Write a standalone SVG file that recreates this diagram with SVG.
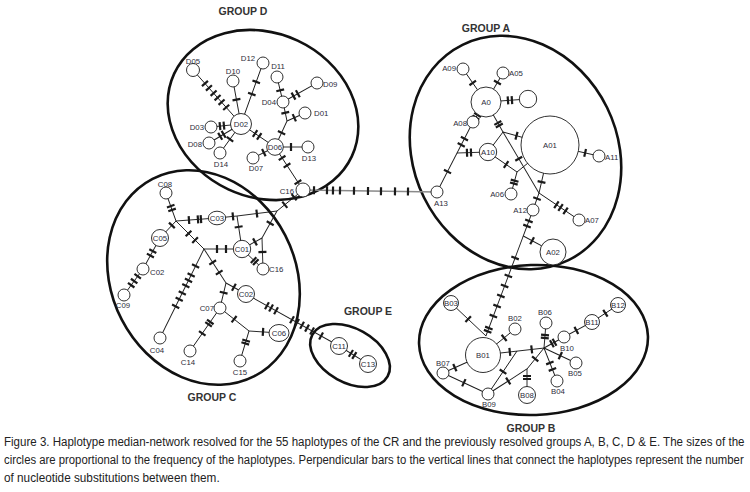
<svg xmlns="http://www.w3.org/2000/svg" width="750" height="492" viewBox="0 0 750 492">
<style>
.e line{stroke:#1a1a1a;stroke-width:.9}
.e path{stroke:#1a1a1a;stroke-width:2.2;fill:none}
.e .gr line{stroke:#8a8a8a;stroke-width:1.4}
.n circle,.n ellipse{fill:#fff;stroke:#1a1a1a;stroke-width:.9}
.n text{font-family:"Liberation Sans",Arial,sans-serif;font-size:7.8px;fill:#2d2d3a;text-anchor:middle;dominant-baseline:central}
.n text.ls{text-anchor:start}
.n text.le{text-anchor:end}
.grp{fill:none;stroke:#111;stroke-width:2.6}
.lbl{font-family:"Liberation Sans",Arial,sans-serif;font-weight:bold;font-size:10.5px;fill:#333;text-anchor:middle;dominant-baseline:central}
.cap{font-family:"Liberation Sans",Arial,sans-serif;font-size:12.5px;fill:#222}
</style>
<rect width="750" height="492" fill="#fff"/>
<g id="groups">
<ellipse class="grp" cx="263" cy="115" rx="98" ry="82" transform="rotate(25 263 115)"/>
<ellipse class="grp" cx="515.5" cy="152.5" rx="102" ry="120" transform="rotate(-26.2 515.5 152.5)"/>
<ellipse class="grp" cx="203.5" cy="277.5" rx="92" ry="111" transform="rotate(-27.3 203.5 277.5)"/>
<ellipse class="grp" cx="350" cy="355.5" rx="43" ry="27" transform="rotate(29 350 355.5)"/>
<ellipse class="grp" cx="533.5" cy="340" rx="114.5" ry="75" transform="rotate(-2 533.5 340)"/>
</g>
<g id="connectors" class="e">
<g transform="translate(193 70) rotate(48.4)"><line x2="72.2"/><path d="M18-4v8M24-4v8M31-4v8M37-4v8M43-4v8M50-4v8"/></g>
<g transform="translate(233 81) rotate(79.5)"><line x2="43.7"/><path d="M19-4v8"/></g>
<g transform="translate(263 63) rotate(109.8)"><line x2="64.8"/><path d="M20-4v8M33-4v8"/></g>
<g transform="translate(211 127) rotate(-5.7)"><line x2="30.1"/><path d="M9-4v8M13-4v8"/></g>
<g transform="translate(209 143) rotate(-30.7)"><line x2="37.2"/><path d="M13-4v8M17-4v8"/></g>
<g transform="translate(220 153) rotate(-54.1)"><line x2="35.8"/><path d="M17-4v8"/></g>
<g transform="translate(241 124) rotate(34.1)"><line x2="41"/><path d="M17-4v8M22-4v8"/></g>
<g transform="translate(283 102) rotate(-103.5)"><line x2="25.7"/><path d="M12-4v8"/></g>
<g transform="translate(283 102) rotate(-29.2)"><line x2="39"/><path d="M12-4v8M17-4v8"/></g>
<g transform="translate(283 102) rotate(78.1)"><line x2="19.4"/><path d="M11-4v8"/></g>
<g transform="translate(287 121) rotate(-24)"><line x2="19.7"/><path d="M8-4v8"/></g>
<g transform="translate(287 121) rotate(114.8)"><line x2="28.6"/><path d="M13-4v8"/></g>
<g transform="translate(275 147)"><line x2="33"/><path d="M16-4v8"/></g>
<g transform="translate(275 147) rotate(153.4)"><line x2="24.6"/><path d="M12.5-4v8"/></g>
<g transform="translate(275 147) rotate(56.9)"><line x2="51.3"/><path d="M13-4v8M22-4v8M42-4v8"/></g>
<g class="gr" transform="translate(303 190) rotate(0.85)"><line x2="134"/><path d="M11-4v8M24-4v8M30-4v8M37-4v8M51-4v8M65-4v8M78-4v8M92-4v8M105-4v8"/></g>
<g transform="translate(463 69) rotate(55.1)"><line x2="40.2"/><path d="M17-4v8"/></g>
<g transform="translate(503 73) rotate(120.4)"><line x2="33.6"/><path d="M11-4v8"/></g>
<g transform="translate(486 102) rotate(-4.1)"><line x2="42.1"/><path d="M22-4v8M26-4v8"/></g>
<g transform="translate(486 102) rotate(123)"><line x2="23.9"/><path d="M15.5-4v8M18.5-4v8"/></g>
<g transform="translate(437 192) rotate(-62.8)"><line x2="78.7"/><path d="M23-4v8M53-4v8M60-4v8"/></g>
<g transform="translate(457 153) rotate(-1.8)"><line x2="31"/><path d="M10-4v8M14-4v8"/></g>
<g transform="translate(486 102) rotate(60.5)"><line x2="34.5"/><path d="M24-4v8M27-4v8"/></g>
<g transform="translate(503 132) rotate(15.5)"><line x2="48.8"/><path d="M14-4v8"/></g>
<g transform="translate(503 132) rotate(126.9)"><line x2="25"/></g>
<g transform="translate(503 132) rotate(59.5)"><line x2="70.8"/><path d="M31-4v8"/></g>
<g transform="translate(488 152) rotate(34.6)"><line x2="35.2"/><path d="M22-4v8"/></g>
<g transform="translate(517 172) rotate(105.3)"><line x2="22.8"/><path d="M9-4v8M12-4v8"/></g>
<g transform="translate(517 172) rotate(-39.3)"><line x2="42.6"/></g>
<g transform="translate(550 145) rotate(102.9)"><line x2="49.2"/><path d="M38-4v8"/></g>
<g transform="translate(539 193) rotate(34)"><line x2="48.3"/><path d="M21-4v8M26-4v8M32-4v8"/></g>
<g transform="translate(539 193) rotate(109.4)"><line x2="18"/><path d="M6-4v8"/></g>
<g transform="translate(550 145) rotate(12.7)"><line x2="50.2"/><path d="M36-4v8"/></g>
<g transform="translate(533 210) rotate(110.5)"><line x2="134.5"/><path d="M11.7-4v8M17.1-4v8M51.2-4v8M70.4-4v8M81.1-4v8M91.8-4v8M102.5-4v8M113.2-4v8M126-4v8M129.5-4v8"/></g>
<g transform="translate(523.3 236) rotate(28.3)"><line x2="33.7"/><path d="M10-4v8"/></g>
<g transform="translate(451 303) rotate(43.3)"><line x2="48.1"/><path d="M23.6-4v8"/></g>
<g transform="translate(515 329) rotate(140.9)"><line x2="41.2"/><path d="M14-4v8"/></g>
<g transform="translate(483 355) rotate(-6.5)"><line x2="61.4"/><path d="M27-4v8M49-4v8"/></g>
<g transform="translate(517 351) rotate(124)"><line x2="51.9"/><path d="M25-4v8"/></g>
<g transform="translate(488 394) rotate(-32.7)"><line x2="46.3"/><path d="M24-4v8"/></g>
<g transform="translate(527 369) rotate(-51)"><line x2="27"/><path d="M13-4v8"/></g>
<g transform="translate(527 369) rotate(90)"><line x2="26"/><path d="M7-4v8M10-4v8"/></g>
<g transform="translate(443 373) rotate(-24.2)"><line x2="43.9"/><path d="M13-4v8"/></g>
<g transform="translate(443 373) rotate(25)"><line x2="49.7"/><path d="M23-4v8"/></g>
<g transform="translate(544 348) rotate(-85.4)"><line x2="25.1"/><path d="M10-4v8M13-4v8"/></g>
<g transform="translate(544 348) rotate(-28.8)"><line x2="22.8"/><path d="M9-4v8M12-4v8"/></g>
<g transform="translate(564 337) rotate(-28.2)"><line x2="31.8"/><path d="M14-4v8"/></g>
<g transform="translate(592 322) rotate(-33.2)"><line x2="31.1"/><path d="M16-4v8"/></g>
<g transform="translate(544 348) rotate(25.1)"><line x2="35.3"/><path d="M18-4v8"/></g>
<g transform="translate(544 348) rotate(68.5)"><line x2="35.5"/><path d="M16-4v8M23-4v8"/></g>
<g transform="translate(166 193) rotate(70.3)"><line x2="29.7"/><path d="M14-4v8M18-4v8"/></g>
<g transform="translate(176 221) rotate(-4.2)"><line x2="41.1"/><path d="M13-4v8M22-4v8M25-4v8"/></g>
<g transform="translate(176 221) rotate(133.3)"><line x2="23.3"/><path d="M6-4v8"/></g>
<g transform="translate(176 221) rotate(45)"><line x2="39.6"/><path d="M17.7-4v8M27-4v8"/></g>
<g transform="translate(204 249)"><line x2="38"/><path d="M13-4v8M22-4v8"/></g>
<g transform="translate(204 249) rotate(116.3)"><line x2="99.3"/><path d="M19-4v8M29-4v8M35-4v8M41-4v8M49-4v8M56-4v8M64-4v8"/></g>
<g transform="translate(204 249) rotate(57.1)"><line x2="40.5"/><path d="M16-4v8M28-4v8"/></g>
<g transform="translate(226 283) rotate(28.8)"><line x2="22.8"/><path d="M9-4v8"/></g>
<g transform="translate(226 283) rotate(103.5)"><line x2="25.7"/><path d="M10-4v8"/></g>
<g transform="translate(220 308) rotate(124.9)"><line x2="52.4"/><path d="M17-4v8M20-4v8M31-4v8"/></g>
<g transform="translate(220 308) rotate(38.4)"><line x2="37"/><path d="M18-4v8"/></g>
<g transform="translate(249 331) rotate(3.8)"><line x2="30.1"/><path d="M14-4v8"/></g>
<g transform="translate(249 331) rotate(106.7)"><line x2="31.3"/><path d="M10-4v8M13-4v8"/></g>
<g transform="translate(160 238) rotate(118.7)"><line x2="35.4"/><path d="M15-4v8M20-4v8"/></g>
<g transform="translate(143 269) rotate(126.2)"><line x2="32.2"/><path d="M9-4v8M15-4v8M20-4v8"/></g>
<g transform="translate(217 218) rotate(-5.7)"><line x2="20"/><path d="M16-4v8"/></g>
<g transform="translate(237 216) rotate(81.4)"><line x2="33.4"/><path d="M11-4v8"/></g>
<g transform="translate(237 216) rotate(-7.1)"><line x2="40.3"/><path d="M20-4v8"/></g>
<g transform="translate(277 211) rotate(-38.9)"><line x2="33.4"/><path d="M10-4v8M22-4v8"/></g>
<g transform="translate(277 211) rotate(119.1)"><line x2="30.9"/><path d="M14-4v8"/></g>
<g transform="translate(262 238) rotate(151.2)"><line x2="22.8"/><path d="M8-4v8"/></g>
<g transform="translate(262 238) rotate(88.2)"><line x2="31"/><path d="M14-4v8"/></g>
<g transform="translate(242 249) rotate(43.6)"><line x2="29"/><path d="M16-4v8M19-4v8"/></g>
<g transform="translate(246 294) rotate(29.2)"><line x2="106.6"/><path d="M24-4v8M28.7-4v8M34.4-4v8M52.7-4v8M58.5-4v8M64.2-4v8M69.9-4v8M75.7-4v8M86-4v8"/></g>
<g transform="translate(339 346) rotate(31.8)"><line x2="34.1"/><path d="M14-4v8M18-4v8"/></g>
</g>
<g id="nodes-D">
<g id="D05" class="n"><circle cx="193" cy="70" r="6.5"/><text x="193" y="61">D05</text></g>
<g id="D12" class="n"><circle cx="263" cy="63" r="6"/><text x="248" y="58">D12</text></g>
<g id="D10" class="n"><circle cx="233" cy="81" r="6"/><text x="233" y="71">D10</text></g>
<g id="D11" class="n"><circle cx="277" cy="77" r="6"/><text x="278" y="66">D11</text></g>
<g id="D09" class="n"><circle cx="317" cy="83" r="6"/><text class="ls" x="323" y="84">D09</text></g>
<g id="D04" class="n"><circle cx="283" cy="102" r="6"/><text class="le" x="276" y="102">D04</text></g>
<g id="D01" class="n"><circle cx="305" cy="113" r="6"/><text class="ls" x="314" y="113">D01</text></g>
<g id="D02" class="n"><circle cx="241" cy="124" r="10.5"/><text x="241" y="124">D02</text></g>
<g id="D03" class="n"><circle cx="211" cy="127" r="6"/><text class="le" x="204" y="127">D03</text></g>
<g id="D08" class="n"><circle cx="209" cy="143" r="6"/><text class="le" x="202" y="144">D08</text></g>
<g id="D14" class="n"><circle cx="220" cy="153" r="6"/><text x="221" y="164">D14</text></g>
<g id="D06" class="n"><circle cx="275" cy="147" r="8.3"/><text x="275" y="147">D06</text></g>
<g id="D07" class="n"><circle cx="253" cy="158" r="6"/><text x="256" y="168">D07</text></g>
<g id="D13" class="n"><circle cx="308" cy="147" r="6"/><text x="309" y="158">D13</text></g>
<g id="C16-top" class="n"><circle cx="303" cy="190" r="7"/><text class="le" x="294" y="191">C16</text></g>
</g>
<g id="nodes-A">
<g id="A09" class="n"><circle cx="463" cy="69" r="6"/><text class="le" x="456" y="68">A09</text></g>
<g id="A05" class="n"><circle cx="503" cy="73" r="6"/><text class="ls" x="509" y="73">A05</text></g>
<g id="A0" class="n"><circle cx="486" cy="102" r="15"/><text x="486" y="102">A0</text></g>
<g id="A-unnamed" class="n"><circle cx="528" cy="99" r="8.7"/></g>
<g id="A08" class="n"><circle cx="473" cy="122" r="6"/><text class="le" x="467" y="123">A08</text></g>
<g id="A01" class="n"><circle cx="550" cy="145" r="29"/><text x="550" y="145">A01</text></g>
<g id="A10" class="n"><circle cx="488" cy="152" r="8.7"/><text x="488" y="152">A10</text></g>
<g id="A11" class="n"><circle cx="599" cy="156" r="6"/><text class="ls" x="605" y="157">A11</text></g>
<g id="A06" class="n"><circle cx="511" cy="194" r="6"/><text class="le" x="504" y="194">A06</text></g>
<g id="A13" class="n"><circle cx="437" cy="192" r="6"/><text x="441" y="203">A13</text></g>
<g id="A12" class="n"><circle cx="533" cy="210" r="6"/><text class="le" x="527" y="210">A12</text></g>
<g id="A07" class="n"><circle cx="579" cy="220" r="6"/><text class="ls" x="585" y="220">A07</text></g>
<g id="A02" class="n"><circle cx="553" cy="252" r="13"/><text x="553" y="252">A02</text></g>
</g>
<g id="nodes-B">
<g id="B03" class="n"><circle cx="451" cy="303" r="7.5"/><text x="451" y="303">B03</text></g>
<g id="B12" class="n"><circle cx="618" cy="305" r="7.5"/><text x="618" y="305">B12</text></g>
<g id="B11" class="n"><circle cx="592" cy="322" r="7.5"/><text x="592" y="322">B11</text></g>
<g id="B06" class="n"><circle cx="546" cy="323" r="6"/><text x="545" y="312">B06</text></g>
<g id="B02" class="n"><circle cx="515" cy="329" r="6"/><text x="515" y="318">B02</text></g>
<g id="B10" class="n"><circle cx="564" cy="337" r="6"/><text x="567" y="348">B10</text></g>
<g id="B01" class="n"><circle cx="483" cy="355" r="17.5"/><text x="483" y="355">B01</text></g>
<g id="B07" class="n"><circle cx="443" cy="373" r="6"/><text x="443" y="363">B07</text></g>
<g id="B05" class="n"><circle cx="576" cy="363" r="6"/><text x="575" y="373">B05</text></g>
<g id="B04" class="n"><circle cx="557" cy="381" r="6"/><text x="558" y="391">B04</text></g>
<g id="B09" class="n"><circle cx="488" cy="394" r="6"/><text x="489" y="404">B09</text></g>
<g id="B08" class="n"><circle cx="527" cy="395" r="8.5"/><text x="527" y="395">B08</text></g>
</g>
<g id="nodes-C">
<g id="C08" class="n"><circle cx="166" cy="193" r="6"/><text x="165" y="184">C08</text></g>
<g id="C03" class="n"><ellipse cx="217" cy="218" rx="8.7" ry="6.8"/><text x="217" y="218">C03</text></g>
<g id="C05" class="n"><circle cx="160" cy="238" r="8.5"/><text x="160" y="238">C05</text></g>
<g id="C01" class="n"><circle cx="242" cy="249" r="8.7"/><text x="242" y="249">C01</text></g>
<g id="C16-low" class="n"><circle cx="263" cy="269" r="6"/><text class="ls" x="269" y="269">C16</text></g>
<g id="C02-left" class="n"><circle cx="143" cy="269" r="6"/><text class="ls" x="150" y="272">C02</text></g>
<g id="C09" class="n"><circle cx="124" cy="295" r="6"/><text x="123" y="305">C09</text></g>
<g id="C02-right" class="n"><circle cx="246" cy="294" r="8.5"/><text x="246" y="294">C02</text></g>
<g id="C07" class="n"><circle cx="220" cy="308" r="6"/><text class="le" x="214" y="308">C07</text></g>
<g id="C06" class="n"><ellipse cx="279" cy="333" rx="10" ry="8.5"/><text x="279" y="333">C06</text></g>
<g id="C04" class="n"><circle cx="160" cy="338" r="6"/><text x="157" y="350">C04</text></g>
<g id="C14" class="n"><circle cx="190" cy="351" r="6"/><text x="188" y="362">C14</text></g>
<g id="C15" class="n"><circle cx="240" cy="361" r="6"/><text x="240" y="372">C15</text></g>
</g>
<g id="nodes-E">
<g id="C11" class="n"><circle cx="339" cy="346" r="8.5"/><text x="339" y="346">C11</text></g>
<g id="C13" class="n"><circle cx="368" cy="364" r="8.5"/><text x="368" y="364">C13</text></g>
</g>
<g id="group-labels">
<text class="lbl" x="243" y="11">GROUP  D</text>
<text class="lbl" x="486" y="28">GROUP  A</text>
<text class="lbl" x="212" y="397">GROUP C</text>
<text class="lbl" x="368" y="311">GROUP  E</text>
<text class="lbl" x="531" y="428">GROUP B</text>
</g>
<g id="caption" transform="scale(0.82 1)">
<text class="cap" x="4.9" y="446" textLength="903" lengthAdjust="spacingAndGlyphs">Figure 3. Haplotype median-network resolved for the 55 haplotypes of the CR and the previously resolved groups A, B, C, D &amp; E. The sizes of the</text>
<text class="cap" x="4.9" y="464" textLength="902" lengthAdjust="spacingAndGlyphs">circles are proportional to the frequency of the haplotypes. Perpendicular bars to the vertical lines that connect the haplotypes represent the number</text>
<text class="cap" x="4.9" y="482" textLength="263" lengthAdjust="spacingAndGlyphs">of nucleotide substitutions between them.</text>
</g>
</svg>
